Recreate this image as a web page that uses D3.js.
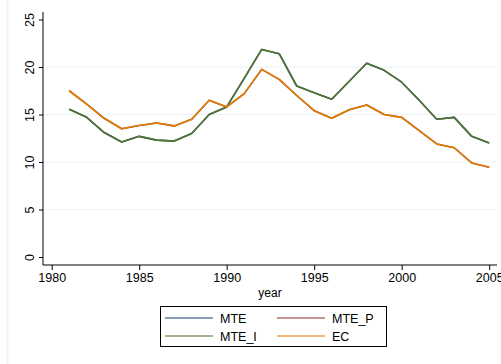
<!DOCTYPE html>
<html><head><meta charset="utf-8">
<script src="https://cdn.jsdelivr.net/npm/d3@7"></script>
<style>body{margin:0;background:#fff;} text{font-family:"Liberation Sans",Arial,sans-serif;fill:#000;}</style>
</head><body><svg id="c" width="501" height="364"></svg>
<script>
const years = d3.range(1981, 2006);
const mteI = [15.55,14.7,13.1,12.1,12.7,12.3,12.2,13.0,15.0,15.8,18.8,21.85,21.4,18.0,17.3,16.6,18.5,20.4,19.65,18.4,16.5,14.5,14.7,12.7,12.0];
const mte = mteI.slice();
const ec = [17.5,16.1,14.6,13.5,13.85,14.1,13.8,14.5,16.5,15.8,17.2,19.75,18.7,17.0,15.4,14.6,15.5,16.0,15.0,14.7,13.3,11.9,11.5,9.9,9.45];
const mteP = ec.slice();
const xTicks = [1980,1985,1990,1995,2000,2005];
const yTicks = [0,5,10,15,20,25];
const gridVals = [5,10,15,20];
const seriesNames = ["MTE","MTE_P","MTE_I","EC"];
const seriesData = [mte, mteP, mteI, ec];
const colors = ["#1a476f","#90353b","#55752f","#e37e00"];

const svg = d3.select("#c");
svg.append("line").attr("x1",7.5).attr("x2",7.5).attr("y1",0).attr("y2",364).attr("stroke","#eaf2f3").attr("stroke-width",1.5);

const x = d3.scaleLinear().domain([1980,2005]).range([51.7,489.2]);
const y = d3.scaleLinear().domain([0,25]).range([257,19.5]);
const pL = 43, pR = 497, pT = 12, pB = 265;

svg.append("g").selectAll("line").data(gridVals).join("line")
  .attr("x1",pL).attr("x2",pR).attr("y1",d=>y(d)).attr("y2",d=>y(d))
  .attr("stroke","#eaf2f3").attr("stroke-width",1);

const yAx = svg.append("g").attr("transform",`translate(${pL},0)`)
  .call(d3.axisLeft(y).tickValues(yTicks).tickSize(4).tickPadding(4));
yAx.select(".domain").remove();
yAx.selectAll(".tick line").attr("stroke","#000");
yAx.selectAll(".tick text").attr("font-size",12.5).attr("text-anchor","middle")
  .attr("transform","rotate(-90)").attr("x",0).attr("y",-9.5).attr("dy","0");
svg.append("line").attr("x1",pL).attr("x2",pL).attr("y1",pT).attr("y2",pB).attr("stroke","#000").attr("stroke-width",1);

const xAx = svg.append("g").attr("transform",`translate(0,${pB})`)
  .call(d3.axisBottom(x).tickValues(xTicks).tickFormat(d3.format("d")).tickSize(5).tickPadding(3));
xAx.select(".domain").remove();
xAx.selectAll(".tick line").attr("stroke","#000");
xAx.selectAll(".tick text").attr("font-size",12.5);
svg.append("line").attr("x1",pL).attr("x2",pR).attr("y1",pB).attr("y2",pB).attr("stroke","#000").attr("stroke-width",1);

svg.append("text").attr("x",270).attr("y",297).attr("text-anchor","middle").attr("font-size",12).text("year");

const line = d3.line().x((d,i)=>x(years[i])).y(d=>y(d));
seriesData.forEach((s,i)=>{
  svg.append("path").datum(s).attr("d",line).attr("fill","none")
    .attr("stroke",colors[i]).attr("stroke-width",1.6).attr("stroke-linejoin","round");
});

const lg = svg.append("g");
lg.append("rect").attr("x",160.5).attr("y",306.5).attr("width",226).attr("height",40)
  .attr("fill","#fff").attr("stroke","#000").attr("stroke-width",1);
const pos = [[165,318],[277,318],[165,336],[277,336]];
seriesNames.forEach((n,i)=>{
  const [lx,ly] = pos[i];
  lg.append("line").attr("x1",lx).attr("x2",lx+48).attr("y1",ly).attr("y2",ly)
    .attr("stroke",colors[i]).attr("stroke-width",1.6).attr("opacity",0.7);
  lg.append("text").attr("x",lx+55).attr("y",ly+4.5).attr("font-size",12.5).text(n);
});
</script></body></html>
